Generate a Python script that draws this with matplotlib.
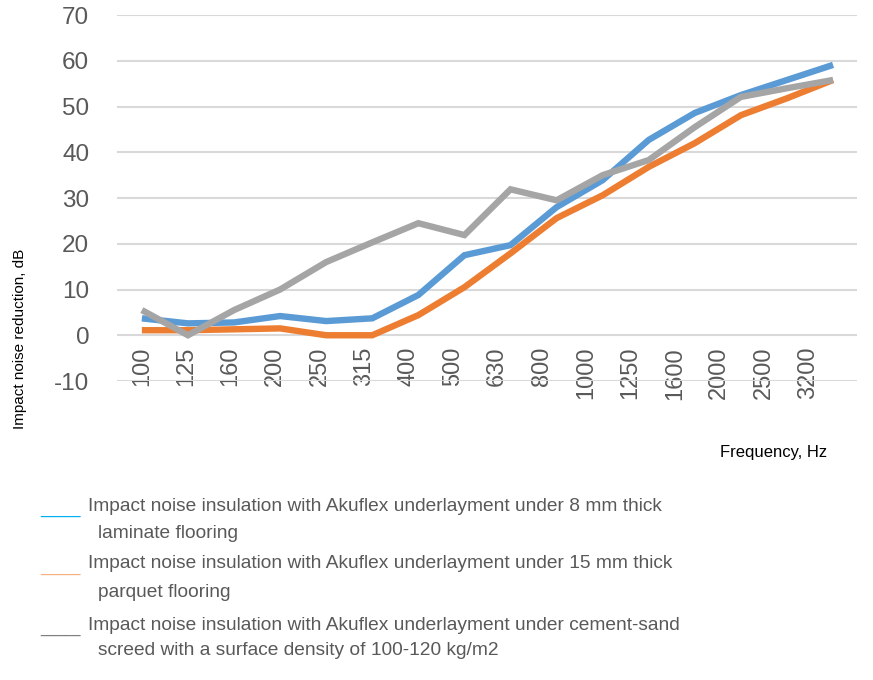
import numpy as np
from matplotlib import pyplot as plt

plt.rcParams['axes.unicode_minus'] = False  # "-10" с обычным дефисом

# 频率 (Hz)
freqs = ['100', '125', '160', '200', '250', '315', '400', '500', '630', '800',
         '1000', '1250', '1600', '2000', '2500', '3200']

# Impact noise reduction, dB
laminate = [3.7, 2.6, 2.8, 4.2, 3.1, 3.7, 8.8, 17.5, 19.7, 28.0,
            33.9, 42.7, 48.6, 52.5, 55.8, 59.1]
parquet = [1.1, 1.1, 1.3, 1.5, 0.0, 0.0, 4.4, 10.5, 17.9, 25.6,
           30.6, 36.8, 42.0, 48.1, 51.8, 55.8]
screed = [5.5, 0.0, 5.5, 10.0, 16.0, 20.3, 24.5, 21.9, 31.9, 29.5,
          35.0, 38.3, 45.5, 52.1, 54.0, 55.8]

legend_lines = [
    ('Impact noise insulation with Akuflex underlayment under 8 mm thick', 'laminate flooring'),
    ('Impact noise insulation with Akuflex underlayment under 15 mm thick', 'parquet flooring'),
    ('Impact noise insulation with Akuflex underlayment under cement-sand',
     'screed with a surface density of 100-120 kg/m2'),
]

line_colors = ['#5b9bd5', '#ed7d31', '#a5a5a5']
legend_colors = ['#00b0f0', '#f4b183', '#7f7f7f']
text_grey = '#595959'
font = 'Liberation Sans'

fig = plt.figure(figsize=(8.73, 6.8), dpi=100)
ax = fig.add_axes([0.134, 0.4397, 0.8477, 0.5382])

x = np.arange(len(freqs))
for ys, c in zip([laminate, parquet, screed], line_colors):
    ax.plot(x, ys, color=c, lw=4.6, solid_capstyle='butt', solid_joinstyle='miter')

ax.set_xlim(-0.54, 15.52)
ax.set_ylim(-10, 70)
ax.set_yticks(np.arange(-10, 71, 10))
ax.grid(axis='y', color='#d9d9d9', lw=1.5)
ax.set_axisbelow(True)
for s in ax.spines.values():
    s.set_visible(False)

# подписи оси X немного сжаты относительно точек, как в оригинале
ax.set_xticks(x * 0.9637)
ax.set_xticklabels(freqs, rotation=90, family=font)
ax.tick_params(axis='x', length=0, pad=-24.5, labelsize=17, labelcolor=text_grey)
ax.tick_params(axis='y', length=0, pad=20, labelsize=17.5, labelcolor=text_grey)
for lab in ax.get_yticklabels():
    lab.set_family(font)

fig.text(20 / 873, 1 - 339 / 680, 'Impact noise reduction, dB', rotation=90,
         ha='center', va='center', fontsize=11, family=font, color='black')
fig.text(720 / 873, 1 - 452 / 680, 'Frequency, Hz', ha='left', va='center',
         fontsize=12, family=font, color='black')

# легенда текстом
first_base = [511, 568, 630]
second_base = [538, 597, 655]
under_y = [513, 571, 632]
for (l1, l2), c, b1, b2, uy in zip(legend_lines, legend_colors, first_base, second_base, under_y):
    fig.text(40 / 873, 1 - uy / 680, '____', color=c, fontsize=13, family=font,
             ha='left', va='baseline')
    fig.text(88 / 873, 1 - b1 / 680, l1, color=text_grey, fontsize=13.8, family=font,
             ha='left', va='baseline')
    fig.text(98 / 873, 1 - b2 / 680, l2, color=text_grey, fontsize=13.8, family=font,
             ha='left', va='baseline')

fig.savefig('out.png', dpi=100)
